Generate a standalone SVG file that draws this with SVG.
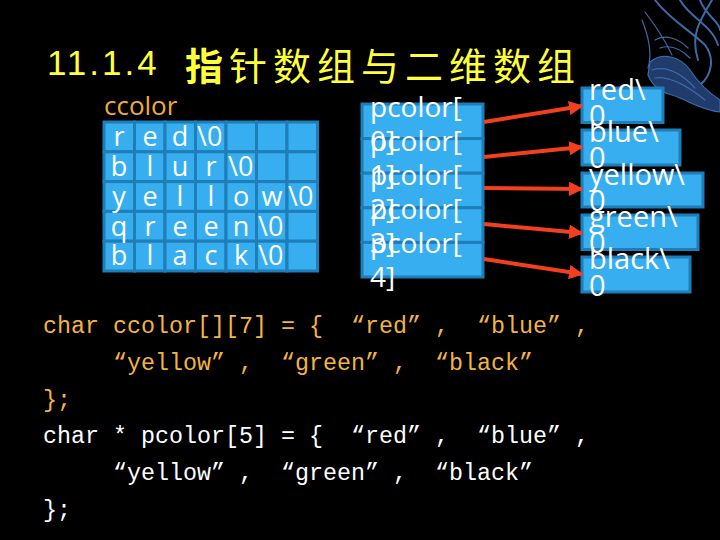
<svg xmlns="http://www.w3.org/2000/svg" width="720" height="540" viewBox="0 0 720 540">
<defs>
<style>
.title-num{font-family:"Liberation Sans",Arial,sans-serif;font-size:35px;fill:#FFFF3C;letter-spacing:3px}
.title-cjk{font-family:"Noto Sans CJK SC","Noto Sans",sans-serif;font-size:38px;fill:#FFFF3C;letter-spacing:6px}
.lbl{font-family:"Open Sans","Noto Sans",sans-serif;font-size:26px;fill:#F2A93B}
.cell{fill:#36AEEF;stroke:#1F7DB8;stroke-width:3}
.g{font-family:"Open Sans","Noto Sans",sans-serif;font-size:27px;fill:#FFFFFF;text-anchor:middle}
.gz{font-family:"Open Sans","Noto Sans",sans-serif;font-size:27px;fill:#FFFFFF}
.bt{font-family:"Open Sans","Noto Sans",sans-serif;font-size:28px;fill:#FFFFFF}
.rt{font-family:"Open Sans","Noto Sans",sans-serif;font-size:29px;fill:#FFFFFF}
.code{font-family:"Liberation Mono","DejaVu Sans Mono",monospace;font-size:23.33px}
.or{fill:#F3B443}
.wh{fill:#FFFFFF}
.arrow{stroke:#F2401E;stroke-width:4;fill:none;marker-end:url(#ah)}
.phx{fill:none;stroke:#3D6AA6;stroke-width:2;stroke-linecap:round}
.phx1{fill:none;stroke:#3D6AA6;stroke-width:1.2;stroke-linecap:round}
</style>
<marker id="ah" viewBox="0 0 10 10" refX="9" refY="5" markerWidth="3.6" markerHeight="3.6" orient="auto" markerUnits="strokeWidth">
<path d="M0,0 L10,5 L0,10 z" fill="#F2401E"/>
</marker>
</defs>
<rect width="720" height="540" fill="#000000"/>

<g id="decoration">
<path class="phx" d="M655,0 C670,20 690,30 705,45 C715,58 712,75 700,85"/>
<path class="phx" d="M680,0 C690,18 712,25 718,45"/>
<path class="phx" d="M700,0 C705,15 720,22 720,30"/>
<path class="phx" d="M712,0 C700,20 690,35 698,60"/>
<path class="phx1" d="M645,12 C655,25 665,40 672,55"/>
<path class="phx1" d="M642,20 C650,40 652,55 648,68"/>
<path d="M650,62 C662,52 680,56 690,70 C700,85 712,95 720,100 L720,112 C700,110 688,100 672,95 C660,92 652,85 648,75 Z" fill="#1F3C6C" stroke="#3D6AA6" stroke-width="1.2"/>
<path class="phx1" d="M652,70 C665,66 680,72 695,88"/>
<path class="phx1" d="M655,78 C668,76 685,84 705,100"/>
<path class="phx1" d="M655,40 C665,34 678,38 688,48"/>
<path class="phx1" d="M660,48 C672,44 682,50 690,58"/>
</g>

<g id="title">
<text y="75"><tspan class="title-num" x="47">11.1.4</tspan></text>
<text y="80" class="title-cjk"><tspan x="185" font-weight="bold">指</tspan><tspan>针数组与二维数组</tspan></text>
</g>

<g id="ccolor-label">
<text class="lbl" x="104" y="115">ccolor</text>
</g>

<g id="ccolor-grid">
<g>
<rect class="cell" x="104" y="122" width="30.5" height="29.8"/><rect class="cell" x="134.5" y="122" width="30.5" height="29.8"/><rect class="cell" x="165" y="122" width="30.5" height="29.8"/><rect class="cell" x="195.5" y="122" width="30.5" height="29.8"/><rect class="cell" x="226" y="122" width="30.5" height="29.8"/><rect class="cell" x="256.5" y="122" width="30.5" height="29.8"/><rect class="cell" x="287" y="122" width="30.5" height="29.8"/>
<rect class="cell" x="104" y="151.8" width="30.5" height="29.8"/><rect class="cell" x="134.5" y="151.8" width="30.5" height="29.8"/><rect class="cell" x="165" y="151.8" width="30.5" height="29.8"/><rect class="cell" x="195.5" y="151.8" width="30.5" height="29.8"/><rect class="cell" x="226" y="151.8" width="30.5" height="29.8"/><rect class="cell" x="256.5" y="151.8" width="30.5" height="29.8"/><rect class="cell" x="287" y="151.8" width="30.5" height="29.8"/>
<rect class="cell" x="104" y="181.6" width="30.5" height="29.8"/><rect class="cell" x="134.5" y="181.6" width="30.5" height="29.8"/><rect class="cell" x="165" y="181.6" width="30.5" height="29.8"/><rect class="cell" x="195.5" y="181.6" width="30.5" height="29.8"/><rect class="cell" x="226" y="181.6" width="30.5" height="29.8"/><rect class="cell" x="256.5" y="181.6" width="30.5" height="29.8"/><rect class="cell" x="287" y="181.6" width="30.5" height="29.8"/>
<rect class="cell" x="104" y="211.4" width="30.5" height="29.8"/><rect class="cell" x="134.5" y="211.4" width="30.5" height="29.8"/><rect class="cell" x="165" y="211.4" width="30.5" height="29.8"/><rect class="cell" x="195.5" y="211.4" width="30.5" height="29.8"/><rect class="cell" x="226" y="211.4" width="30.5" height="29.8"/><rect class="cell" x="256.5" y="211.4" width="30.5" height="29.8"/><rect class="cell" x="287" y="211.4" width="30.5" height="29.8"/>
<rect class="cell" x="104" y="241.2" width="30.5" height="29.8"/><rect class="cell" x="134.5" y="241.2" width="30.5" height="29.8"/><rect class="cell" x="165" y="241.2" width="30.5" height="29.8"/><rect class="cell" x="195.5" y="241.2" width="30.5" height="29.8"/><rect class="cell" x="226" y="241.2" width="30.5" height="29.8"/><rect class="cell" x="256.5" y="241.2" width="30.5" height="29.8"/><rect class="cell" x="287" y="241.2" width="30.5" height="29.8"/>
</g>
<text class="g" y="146"><tspan x="119">r</tspan><tspan x="150">e</tspan><tspan x="180">d</tspan></text>
<text class="gz" x="197" y="146">\0</text>
<text class="g" y="176"><tspan x="119">b</tspan><tspan x="150">l</tspan><tspan x="180">u</tspan><tspan x="211">r</tspan></text>
<text class="gz" x="228" y="176">\0</text>
<text class="g" y="206"><tspan x="119">y</tspan><tspan x="150">e</tspan><tspan x="180">l</tspan><tspan x="211">l</tspan><tspan x="241">o</tspan><tspan x="272">w</tspan></text>
<text class="gz" x="288" y="206">\0</text>
<text class="g" y="235.5"><tspan x="119">q</tspan><tspan x="150">r</tspan><tspan x="180">e</tspan><tspan x="211">e</tspan><tspan x="241">n</tspan></text>
<text class="gz" x="258" y="235.5">\0</text>
<text class="g" y="265"><tspan x="119">b</tspan><tspan x="150">l</tspan><tspan x="180">a</tspan><tspan x="211">c</tspan><tspan x="241">k</tspan></text>
<text class="gz" x="258" y="265">\0</text>
</g>

<g id="pcolor-array">
<rect class="cell" x="362" y="104" width="121" height="34.6"/>
<rect class="cell" x="362" y="138.6" width="121" height="34.6"/>
<rect class="cell" x="362" y="173.2" width="121" height="34.6"/>
<rect class="cell" x="362" y="207.8" width="121" height="34.6"/>
<rect class="cell" x="362" y="242.4" width="121" height="34.6"/>
<text class="bt"><tspan x="370" y="117">pcolor[</tspan><tspan x="370" y="151">0]</tspan></text>
<text class="bt"><tspan x="370" y="151">pcolor[</tspan><tspan x="370" y="185">1]</tspan></text>
<text class="bt"><tspan x="370" y="185">pcolor[</tspan><tspan x="370" y="219">2]</tspan></text>
<text class="bt"><tspan x="370" y="219">pcolor[</tspan><tspan x="370" y="253">3]</tspan></text>
<text class="bt"><tspan x="370" y="253">pcolor[</tspan><tspan x="370" y="287">4]</tspan></text>
</g>

<g id="str-red">
<rect class="cell" x="582" y="88" width="81" height="34.5"/>
<text class="rt"><tspan x="589" y="100">red\</tspan><tspan x="589" y="126">0</tspan></text>
</g>
<g id="str-blue">
<rect class="cell" x="582" y="130" width="98" height="35"/>
<text class="rt"><tspan x="589" y="142">blue\</tspan><tspan x="589" y="168">0</tspan></text>
</g>
<g id="str-yellow">
<rect class="cell" x="582" y="173" width="121" height="34"/>
<text class="rt"><tspan x="589" y="185">yellow\</tspan><tspan x="589" y="211">0</tspan></text>
</g>
<g id="str-green">
<rect class="cell" x="582" y="215" width="116" height="34.5"/>
<text class="rt"><tspan x="589" y="227">green\</tspan><tspan x="589" y="253">0</tspan></text>
</g>
<g id="str-black">
<rect class="cell" x="582" y="257" width="108" height="35"/>
<text class="rt"><tspan x="589" y="269">black\</tspan><tspan x="589" y="296">0</tspan></text>
</g>

<g id="connectors">
<line class="arrow" x1="484" y1="122" x2="582" y2="106"/>
<line class="arrow" x1="484" y1="157" x2="582" y2="147"/>
<line class="arrow" x1="484" y1="188" x2="582" y2="189"/>
<line class="arrow" x1="484" y1="224" x2="582" y2="233"/>
<line class="arrow" x1="484" y1="259" x2="582" y2="274"/>
</g>

<g id="code">
<text class="code or" y="333"><tspan x="43">char ccolor[][7] = {</tspan><tspan x="351">“</tspan><tspan x="365">red</tspan><tspan x="407">”</tspan><tspan x="435">,</tspan><tspan x="477">“</tspan><tspan x="491">blue</tspan><tspan x="547">”</tspan><tspan x="575">,</tspan></text>
<text class="code or" y="370"><tspan x="113">“</tspan><tspan x="127">yellow</tspan><tspan x="211">”</tspan><tspan x="239">,</tspan><tspan x="281">“</tspan><tspan x="295">green</tspan><tspan x="365">”</tspan><tspan x="393">,</tspan><tspan x="435">“</tspan><tspan x="449">black</tspan><tspan x="519">”</tspan></text>
<text class="code or" x="43" y="407">};</text>
<text class="code wh" y="443"><tspan x="43">char * pcolor[5] = {</tspan><tspan x="351">“</tspan><tspan x="365">red</tspan><tspan x="407">”</tspan><tspan x="435">,</tspan><tspan x="477">“</tspan><tspan x="491">blue</tspan><tspan x="547">”</tspan><tspan x="575">,</tspan></text>
<text class="code wh" y="480"><tspan x="113">“</tspan><tspan x="127">yellow</tspan><tspan x="211">”</tspan><tspan x="239">,</tspan><tspan x="281">“</tspan><tspan x="295">green</tspan><tspan x="365">”</tspan><tspan x="393">,</tspan><tspan x="435">“</tspan><tspan x="449">black</tspan><tspan x="519">”</tspan></text>
<text class="code wh" x="43" y="517">};</text>
</g>
</svg>
